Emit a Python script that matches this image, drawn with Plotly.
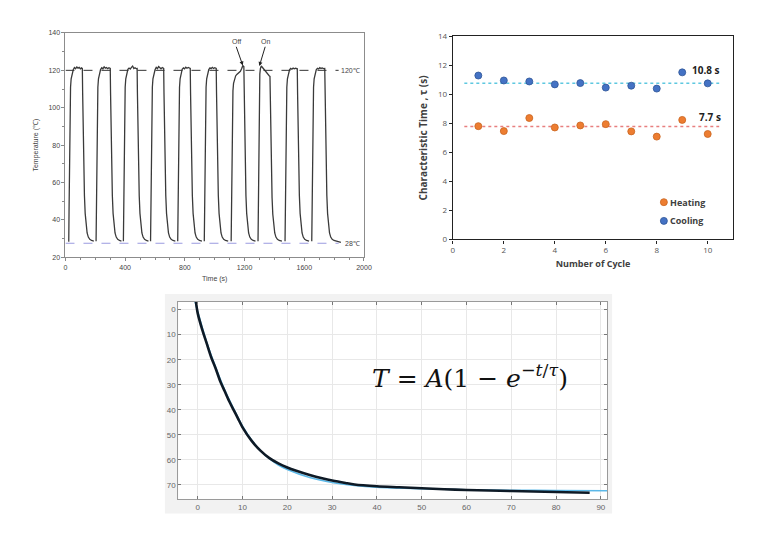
import plotly.graph_objects as go

# ---------------- Panel 1: temperature cycling ----------------
cycle_time = [
    [18, 22, 24, 26, 28, 31, 34, 38, 44, 52, 60, 68, 76, 84, 92, 100, 108, 113,
     115, 117, 120, 123, 127, 132, 138, 145, 153, 163, 175, 190],
    [205, 207, 209, 211, 214, 217, 221, 227, 235, 243, 251, 259, 267, 275, 283, 291, 300,
     302, 304, 307, 310, 314, 319, 325, 332, 340, 350, 362, 375],
    [388, 390, 392, 394, 397, 400, 404, 410, 418, 426, 434, 442, 450, 458, 466, 474, 480,
     482, 484, 487, 490, 494, 499, 505, 512, 520, 530, 542, 556],
    [570, 572, 574, 576, 579, 582, 586, 592, 600, 608, 616, 624, 632, 640, 648, 658,
     660, 662, 665, 668, 672, 677, 683, 690, 698, 708, 720, 736],
    [752, 754, 756, 758, 761, 764, 768, 774, 782, 790, 798, 806, 814, 822, 830, 836,
     838, 840, 843, 846, 850, 855, 861, 868, 876, 886, 898, 914],
    [930, 932, 934, 936, 939, 942, 946, 952, 960, 968, 976, 984, 992, 1000, 1010,
     1012, 1014, 1017, 1020, 1024, 1029, 1035, 1042, 1050, 1060, 1072, 1090],
    [1110, 1112, 1114, 1116, 1119, 1122, 1126, 1132, 1140, 1148, 1156, 1164, 1172, 1180, 1188, 1195,
     1197, 1199, 1202, 1205, 1209, 1214, 1220, 1227, 1235, 1245, 1257, 1273],
    [1290, 1292, 1294, 1296, 1299, 1302, 1306, 1312, 1320, 1328, 1336, 1344, 1352, 1360, 1366, 1370,
     1372, 1374, 1377, 1380, 1384, 1389, 1395, 1402, 1410, 1420, 1432, 1450],
    [1471, 1473, 1475, 1477, 1480, 1483, 1487, 1493, 1501, 1509, 1517, 1525, 1533, 1541, 1553,
     1555, 1557, 1560, 1563, 1567, 1572, 1578, 1585, 1593, 1603, 1615, 1632],
    [1650, 1652, 1654, 1656, 1659, 1662, 1666, 1672, 1680, 1688, 1696, 1704, 1712, 1720, 1728, 1737,
     1739, 1741, 1744, 1747, 1751, 1756, 1762, 1769, 1777, 1787, 1799, 1815, 1845],
]
cycle_temp = [
    [28.6, 28.6, 45, 70, 90, 104, 111, 115.5, 118.5, 120.3, 121.5, 120.9, 121.8, 121.2, 121.6, 120.8, 121.3, 121,
     108, 95, 78, 65, 53, 43.5, 37, 33, 30.8, 29.6, 29.0, 28.7],
    [28.6, 45, 70, 90, 104, 111, 115.5, 118.5, 120.4, 121.4, 120.8, 121.9, 121.2, 121.5, 120.9, 121.4, 121,
     108, 95, 78, 65, 53, 43.5, 37, 33, 30.8, 29.6, 29.0, 28.7],
    [28.6, 45, 70, 90, 104, 111, 115.5, 118.5, 120.5, 121.2, 120.7, 121.6, 122.3, 121.0, 121.4, 120.9, 121,
     108, 95, 78, 65, 53, 43.5, 37, 33, 30.8, 29.6, 29.0, 28.7],
    [28.6, 45, 70, 90, 104, 111, 115.5, 118.5, 120.3, 121.6, 120.9, 122.0, 121.3, 120.8, 121.5, 121,
     108, 95, 78, 65, 53, 43.5, 37, 33, 30.8, 29.6, 29.0, 28.7],
    [28.6, 45, 70, 90, 104, 111, 115.5, 118.5, 120.6, 121.3, 120.8, 121.7, 121.1, 121.5, 120.9, 121,
     108, 95, 78, 65, 53, 43.5, 37, 33, 30.8, 29.6, 29.0, 28.7],
    [28.6, 45, 70, 90, 104, 111, 115.5, 118.5, 120.4, 121.3, 120.9, 121.6, 121.0, 121.4, 121,
     108, 95, 78, 65, 53, 43.5, 37, 33, 30.8, 29.6, 29.0, 28.7],
    [28.6, 45, 70, 90, 103, 109, 113, 115.5, 117, 117.8, 118.3, 118.8, 119.5, 120.8, 122.5, 122,
     108, 95, 78, 65, 53, 43.5, 37, 33, 30.8, 29.6, 29.0, 28.7],
    [28.6, 50, 78, 98, 112, 118, 121, 122.3, 121.5, 120.6, 120.2, 119.4, 118.5, 117.6, 117, 116.8,
     104, 92, 76, 63, 52, 43, 37, 33, 30.8, 29.6, 29.0, 28.7],
    [28.6, 45, 70, 90, 104, 111, 115.5, 118.5, 120.3, 121.0, 120.6, 121.2, 120.8, 121.1, 120.8,
     108, 95, 78, 65, 53, 43.5, 37, 33, 30.8, 29.6, 29.0, 28.7],
    [28.6, 45, 70, 90, 104, 111, 115.5, 118.5, 120.3, 121.1, 120.7, 121.4, 121.0, 121.3, 120.9, 121,
     108, 95, 78, 65, 53, 43.5, 37, 33, 30.8, 29.6, 29.0, 28.5, 28.0],
]
ref_high = 120
ref_low = 27.5
ref_end = 1830

# ---------------- Panel 2: characteristic time ----------------
cycles = [1, 2, 3, 4, 5, 6, 7, 8, 9, 10]
tau_heating = [7.81, 7.47, 8.37, 7.72, 7.86, 7.95, 7.45, 7.09, 8.24, 7.27]
tau_cooling = [11.3, 10.96, 10.89, 10.69, 10.78, 10.47, 10.6, 10.4, 11.52, 10.76]
mean_heating = 7.78
mean_cooling = 10.76
mean_span = [0.45, 10.45]
legend_names = ["Heating", "Cooling"]

# ---------------- Panel 3: exponential fit ----------------
data_t = [-0.4, 0, 1, 2, 3, 4, 5, 6, 7, 8, 9, 10, 12, 14, 16, 18, 20, 22, 25, 28, 30,
          33, 35, 40, 45, 50, 55, 60, 65, 70, 75, 80, 85, 87.5]
data_y = [-3.1, 1.5, 8, 13.5, 19, 23.5, 28.5, 32.5, 36.5, 40, 43.5, 47, 52.3, 56.3, 59.3,
          61.4, 63.0, 64.3, 66.0, 67.4, 68.2, 69.2, 69.8, 70.5, 70.9, 71.3, 71.7, 72.0,
          72.2, 72.4, 72.6, 72.8, 73.0, 73.1]
fit_t = [-0.6, 0, 2, 4, 6, 8, 10, 12, 14, 16, 18, 20, 25, 30, 35, 40, 50, 60, 70, 80, 92]
fit_y = [-3.2, 0.8, 13, 23, 32, 39.5, 46.5, 52, 56.3, 59.5, 62, 63.8, 67.0, 69.0, 70.2, 70.9,
         71.5, 71.9, 72.1, 72.2, 72.3]

W, H = 780, 541


def px_x(a, b):
    return [a / W, b / W]


def px_y(top, bottom):
    return [1 - bottom / H, 1 - top / H]


fig = go.Figure()

# Panel 1 traces
for ts, vs in zip(cycle_time, cycle_temp):
    fig.add_trace(go.Scatter(x=ts, y=vs, mode="lines", line=dict(color="#3a3a3a", width=1.3),
                             xaxis="x", yaxis="y", showlegend=False, hoverinfo="skip"))
fig.add_trace(go.Scatter(x=[0, ref_end], y=[ref_high, ref_high], mode="lines",
                         line=dict(color="#333333", width=1, dash="dash"),
                         xaxis="x", yaxis="y", showlegend=False))
fig.add_trace(go.Scatter(x=[0, ref_end], y=[ref_low, ref_low], mode="lines",
                         line=dict(color="#9a9ae0", width=1, dash="dash"),
                         xaxis="x", yaxis="y", showlegend=False))

# Panel 2 traces
heat_marker = dict(color="#ED7D31", size=7, line=dict(color="#c9651f", width=0.8))
cool_marker = dict(color="#4472C4", size=7, line=dict(color="#2f5597", width=0.8))
fig.add_trace(go.Scatter(x=mean_span, y=[mean_cooling, mean_cooling], mode="lines",
                         line=dict(color="#5ec8e0", width=1.5, dash="dot"),
                         xaxis="x2", yaxis="y2", showlegend=False))
fig.add_trace(go.Scatter(x=mean_span, y=[mean_heating, mean_heating], mode="lines",
                         line=dict(color="#e87f7f", width=1.5, dash="dot"),
                         xaxis="x2", yaxis="y2", showlegend=False))
fig.add_trace(go.Scatter(x=cycles, y=tau_heating, mode="markers", name="Heating",
                         marker=heat_marker, xaxis="x2", yaxis="y2", showlegend=False))
fig.add_trace(go.Scatter(x=cycles, y=tau_cooling, mode="markers", name="Cooling",
                         marker=cool_marker, xaxis="x2", yaxis="y2", showlegend=False))
# in-plot legend (swatches)
fig.add_trace(go.Scatter(x=[8.28, 8.28], y=[2.57, 1.28], mode="markers",
                         marker=dict(color=["#ED7D31", "#4472C4"], size=7,
                                     line=dict(color=["#c9651f", "#2f5597"], width=0.8)),
                         xaxis="x2", yaxis="y2", showlegend=False, hoverinfo="skip"))

# Panel 3 traces
fig.add_trace(go.Scatter(x=fit_t, y=fit_y, mode="lines",
                         line=dict(color="#5bb8e8", width=1.6, shape="spline", smoothing=0.8),
                         xaxis="x3", yaxis="y3", showlegend=False))
fig.add_trace(go.Scatter(x=data_t, y=data_y, mode="lines",
                         line=dict(color="#0e1a26", width=2.6, shape="spline", smoothing=0.8),
                         xaxis="x3", yaxis="y3", showlegend=False))

small = dict(family="Liberation Sans, Arial, sans-serif", size=7, color="#444444")
bold2 = dict(family="Open Sans, Arial, sans-serif", size=9, color="#404040")
legfont = dict(family="Open Sans, Arial, sans-serif", size=9, color="#404040")

fig.update_layout(
    width=W, height=H, margin=dict(l=0, r=0, t=0, b=0),
    paper_bgcolor="white", plot_bgcolor="white", showlegend=False,
    xaxis=dict(domain=px_x(64.3, 366.7), range=[0, 2000], anchor="y",
               tickvals=[0, 400, 800, 1200, 1600, 2000], ticks="outside", ticklen=3,
               tickcolor="#888", minor=dict(dtick=100, ticks="outside", ticklen=2, tickcolor="#888"),
               showgrid=False, zeroline=False, showline=True, linecolor="#8c8c8c", linewidth=1,
               mirror=True, tickfont=small,
               title=dict(text="Time (s)", font=small, standoff=6)),
    yaxis=dict(domain=px_y(27.5, 256.5), range=[20, 140], anchor="x",
               tickvals=[20, 40, 60, 80, 100, 120, 140], ticks="outside", ticklen=3,
               tickcolor="#888", minor=dict(dtick=10, ticks="outside", ticklen=2, tickcolor="#888"),
               showgrid=False, zeroline=False, showline=True, linecolor="#8c8c8c", linewidth=1,
               mirror=True, tickfont=small,
               title=dict(text="Temperature (℃)", font=small, standoff=8)),
    xaxis2=dict(domain=px_x(456.7, 740.7), range=[0, 11], anchor="y2",
                tickvals=[0, 2, 4, 6, 8, 10], ticks="outside", ticklen=3, tickcolor="#222",
                showgrid=False, zeroline=False, showline=True, linecolor="#222", linewidth=1.3,
                mirror=True, tickfont=dict(family="Open Sans, Arial, sans-serif", size=8, color="#555"),
                title=dict(text="<b>Number of Cycle</b>", font=bold2, standoff=6)),
    yaxis2=dict(domain=px_y(31, 238.3), range=[0, 14], anchor="x2",
                tickvals=[0, 2, 4, 6, 8, 10, 12, 14], ticks="outside", ticklen=3, tickcolor="#222",
                showgrid=False, zeroline=False, showline=True, linecolor="#222", linewidth=1.3,
                mirror=True, tickfont=dict(family="Open Sans, Arial, sans-serif", size=8, color="#555"),
                title=dict(text="<b>Characteristic Time , τ (s)</b>",
                           font=dict(family="Open Sans, Arial, sans-serif", size=10, color="#404040"),
                           standoff=8)),
    xaxis3=dict(domain=px_x(178.5, 613), range=[-4.36, 91.4], anchor="y3",
                tickvals=[0, 10, 20, 30, 40, 50, 60, 70, 80, 90], ticks="inside", ticklen=3,
                tickcolor="#777", showgrid=True, gridcolor="#e8e8e8", gridwidth=1,
                zeroline=False, showline=True, linecolor="#9a9a9a", linewidth=1, mirror="ticks",
                tickfont=dict(family="Liberation Sans, Arial, sans-serif", size=8, color="#666")),
    yaxis3=dict(domain=px_y(302, 503.5), range=[75.7, -3.1], anchor="x3",
                tickvals=[0, 10, 20, 30, 40, 50, 60, 70], ticks="inside", ticklen=3,
                tickcolor="#777", showgrid=True, gridcolor="#e8e8e8", gridwidth=1,
                zeroline=False, showline=True, linecolor="#9a9a9a", linewidth=1, mirror="ticks",
                tickfont=dict(family="Liberation Sans, Arial, sans-serif", size=8, color="#666")),
    shapes=[
        dict(type="rect", xref="paper", yref="paper", x0=165 / W, x1=618 / W,
             y0=1 - 518 / H, y1=1 - 294 / H, fillcolor="#f2f2f2", line=dict(width=0), layer="below"),
        dict(type="rect", xref="paper", yref="paper", x0=178.5 / W, x1=613 / W,
             y0=1 - 503.5 / H, y1=1 - 302 / H, fillcolor="white", line=dict(width=0), layer="below"),
    ],
    annotations=[
        dict(x=1911, y=120, xref="x", yref="y", text="120℃", showarrow=False, font=small),
        dict(x=1920, y=27.5, xref="x", yref="y", text="28℃", showarrow=False, font=small),
        dict(x=1188, y=122.6, xref="x", yref="y", ax=1144, ay=132.6, axref="x", ayref="y",
             text="Off", showarrow=True, arrowhead=2, arrowsize=0.8, arrowwidth=1,
             arrowcolor="#222", font=small, yanchor="bottom"),
        dict(x=1299, y=122.3, xref="x", yref="y", ax=1338, ay=132.6, axref="x", ayref="y",
             text="On", showarrow=True, arrowhead=2, arrowsize=0.8, arrowwidth=1,
             arrowcolor="#222", font=small, yanchor="bottom"),
        dict(x=9.94, y=11.7, xref="x2", yref="y2", text="<b>10.8 s</b>", showarrow=False,
             font=dict(family="Open Sans, Arial, sans-serif", size=10, color="#222")),
        dict(x=10.1, y=8.44, xref="x2", yref="y2", text="<b>7.7 s</b>", showarrow=False,
             font=dict(family="Open Sans, Arial, sans-serif", size=10, color="#222")),
        dict(x=8.45, y=2.57, xref="x2", yref="y2", text="<b>" + legend_names[0] + "</b>",
             showarrow=False, xanchor="left", font=legfont),
        dict(x=8.45, y=1.28, xref="x2", yref="y2", text="<b>" + legend_names[1] + "</b>",
             showarrow=False, xanchor="left", font=legfont),
        dict(x=60.8, y=26.6, xref="x3", yref="y3",
             text="<i>T</i> = <i>A</i>(1 − <i>e</i><sup>−<i>t</i>/<i>τ</i></sup>)",
             showarrow=False,
             font=dict(family="DejaVu Serif, Liberation Serif, serif", size=25, color="#111")),
    ],
)

fig.write_html("out.html")
